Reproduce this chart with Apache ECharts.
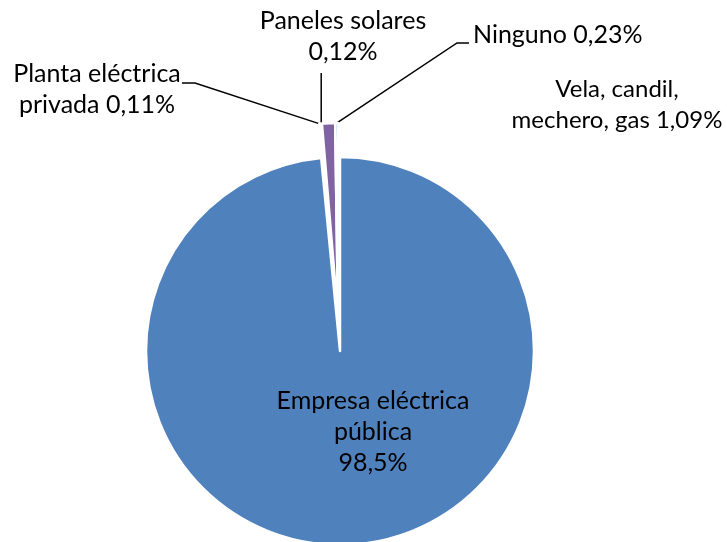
<!DOCTYPE html>
<html><head><meta charset="utf-8">
<script src="https://cdn.jsdelivr.net/npm/echarts@6/dist/echarts.min.js"></script>
<style>html,body{margin:0;padding:0;background:#fff}#c{width:727px;height:542px}</style>
</head><body><div id="c"></div>
<script>
const categories = ['Empresa eléctrica pública','Planta eléctrica privada','Paneles solares','Vela, candil, mechero, gas','Ninguno'];
const values = [98.5, 0.11, 0.12, 1.09, 0.23];
const labelTexts = ['Empresa eléctrica\npública\n98,5%','Planta eléctrica\nprivada 0,11%','Paneles solares\n0,12%','Vela, candil,\nmechero, gas 1,09%','Ninguno 0,23%'];
const colors = ['#4F81BD','#C0504D','#9BBB59','#8064A2','#4BACC6'];

// label placement (layout only)
const labelPos = [
  {x:373, y:432, align:'center'},
  {x:97, y:89, align:'center', elbow:[195,83], end:[182,83]},
  {x:343, y:36, align:'center', elbow:null, endY:73},
  {x:617, y:105, align:'center', fontSize:24},
  {x:473, y:35, align:'left', elbow:[457,43], end:[469,43]}
];
const font = {fontFamily:'Lato', fontSize:25, color:'#000', lineHeight:31};
const layoutFn = function(p){
  const q = labelPos[p.dataIndex];
  const out = {x:q.x, y:q.y, align:q.align, verticalAlign:'middle'};
  const pts = p.labelLinePoints;
  if (pts && pts.length && (q.elbow || q.endY != null)) {
    const a = [pts[0][0], pts[0][1]];
    if (q.elbow) {
      out.labelLinePoints = [a, q.elbow.slice(), q.end.slice()];
    } else {
      out.labelLinePoints = [a, [a[0], (a[1] + q.endY) / 2], [a[0], q.endY]];
    }
  }
  return out;
};
// series A: the large slice (exploded downward); series B: the small slices (exploded upward)
function makeSeries(showMain, center){
  return {
    type:'pie',
    center:center,
    radius:[0,194],
    startAngle:90,
    clockwise:true,
    avoidLabelOverlap:false,
    emphasis:{disabled:true},
    silent:true,
    label:Object.assign({}, font),
    labelLine:{show:true, lineStyle:{color:'#000', width:1.5}, length:10, length2:8},
    labelLayout:layoutFn,
    data: categories.map((c,i)=>{
      const mine = showMain ? i===0 : i!==0;
      const lbl = {show:mine, formatter:labelTexts[i], position: i===0 ? 'inside':'outside'};
      if (labelPos[i].fontSize) lbl.fontSize = labelPos[i].fontSize;
      return {
        name:c, value:values[i],
        itemStyle: mine ? {color:colors[i], borderColor:'#fff', borderWidth:2.5} : {color:'rgba(0,0,0,0)', borderWidth:0},
        label:lbl,
        labelLine:{show: mine && i!==0 && i!==3}
      };
    })
  };
}
const chart = echarts.init(document.getElementById('c'), null, {renderer:'canvas'});
chart.setOption({
  backgroundColor:'#fff',
  animation:false,
  series:[ makeSeries(true,[340,351]), makeSeries(false,[338,317]) ]
});
</script>
</body></html>
